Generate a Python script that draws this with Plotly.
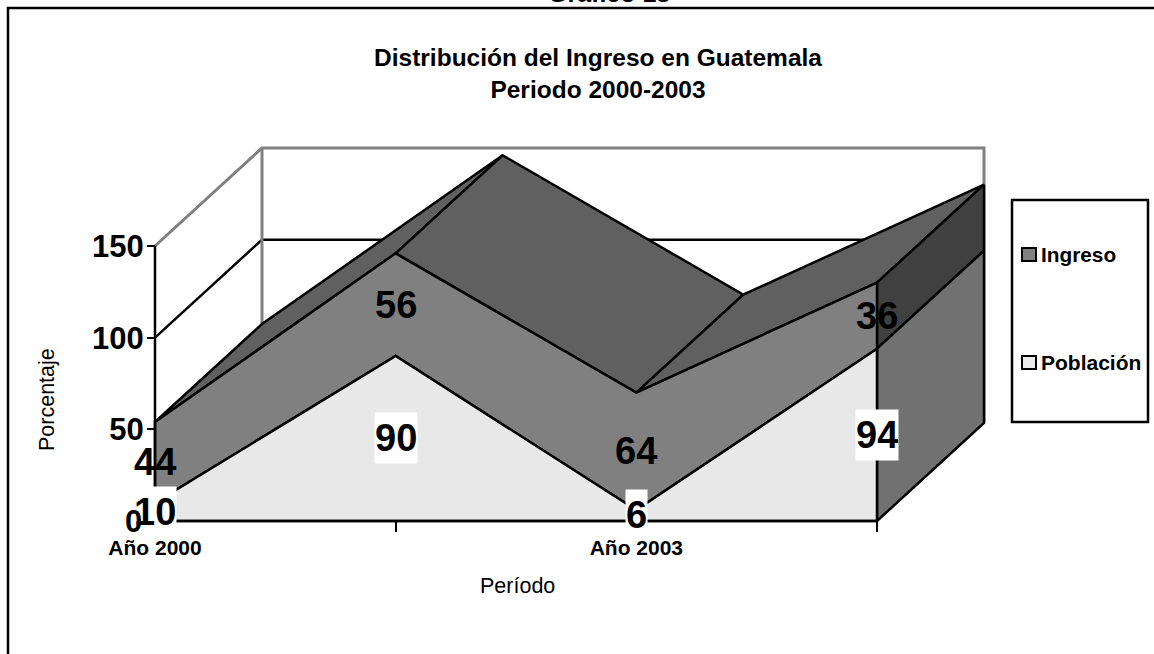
import plotly.graph_objects as go

W, H = 1154, 654
periodos = ["Año 2000", "", "Año 2003", ""]
poblacion = [10, 90, 6, 94]
ingreso = [44, 56, 64, 36]
y_ticks = [0, 50, 100, 150]

# oblique depth of the pseudo-3D box, in axis units
DX, DY = 0.4446, 53.45
x = list(range(len(periodos)))
tope = [p + i for p, i in zip(poblacion, ingreso)]
FONT = "Liberation Sans, Arial, sans-serif"

# axis scale: pixel position of the axis origin and pixels per unit
X0, XS = 155.0, (877 - 155) / 3
Y0, YS = 521.0, (521 - 246) / 150
XLO, XHI = -0.02, x[-1] + DX + 0.05
YLO, YHI = -3, y_ticks[-1] + DY + 3

fig = go.Figure()


def poly(xs, ys, fill=None, line="black", width=2.5, pattern=None):
    kw = {}
    if fill or pattern:
        kw["fill"] = "toself"
        kw["fillcolor"] = fill
    if pattern:
        kw["fillpattern"] = pattern
    fig.add_trace(go.Scatter(x=xs, y=ys, mode="lines", showlegend=False,
                             hoverinfo="skip", line=dict(color=line, width=width), **kw))


GRAY = "#808080"
# back wall / side wall
xmax = x[-1]
for v in y_ticks[1:3]:
    poly([0, DX, xmax + DX], [v, v + DY, v + DY], width=2.5)
poly([0, DX, xmax + DX, xmax + DX], [y_ticks[-1], y_ticks[-1] + DY, y_ticks[-1] + DY, DY], line=GRAY, width=3)
poly([DX, DX], [DY, y_ticks[-1] + DY], line=GRAY, width=3)

# top facets of Ingreso
for k in range(len(x) - 1):
    poly([x[k], x[k + 1], x[k + 1] + DX, x[k] + DX, x[k]],
         [tope[k], tope[k + 1], tope[k + 1] + DY, tope[k] + DY, tope[k]], fill="#606060")

dots_light = dict(shape=".", size=2, solidity=0.22, bgcolor="#ffffff", fgcolor="#8a8a8a", fillmode="replace")
dots_dark = dict(shape=".", size=2, solidity=0.3, bgcolor="#808080", fgcolor="#404040", fillmode="replace")

# end faces
e = x[-1]
poly([e, e + DX, e + DX, e, e], [poblacion[-1], poblacion[-1] + DY, tope[-1] + DY, tope[-1], poblacion[-1]], fill="#404040")
poly([e, e + DX, e + DX, e, e], [0, DY, poblacion[-1] + DY, poblacion[-1], 0], fill="#707070", pattern=dots_dark)

# front faces
poly(x + x[::-1] + [x[0]], poblacion + tope[::-1] + [poblacion[0]], fill=GRAY)
poly(x + x[::-1] + [x[0]], [0] * len(x) + poblacion[::-1] + [0], fill="#ececec", pattern=dots_light)

# axis lines
poly([x[0], x[0]], [y_ticks[0], y_ticks[-1]], width=2.5)
poly([x[0], x[-1]], [0, 0], width=2.5)

annotations = []
LABEL = dict(size=38, family=FONT, weight="bold", color="black")
for i in x:
    annotations.append(dict(x=i, y=poblacion[i] + ingreso[i] / 2, text=str(ingreso[i]), showarrow=False, font=LABEL))
for i in x:
    annotations.append(dict(x=i, y=poblacion[i] / 2, text=str(poblacion[i]), showarrow=False, font=LABEL,
                            bgcolor="white", borderpad=0, height=50))


def px(v):
    return v / W


def py(v):
    return 1 - v / H


# zero tick label sits on top of the "10" box in the reference
annotations.append(dict(x=0, y=0, xshift=-11, yshift=-1, text="0", showarrow=False, xanchor="right",
                        font=dict(size=31, family=FONT, weight="bold", color="black")))
annotations += [
    dict(xref="paper", yref="paper", x=px(47), y=py(400), xanchor="center", yanchor="middle", text="Porcentaje",
         textangle=-90, showarrow=False, font=dict(size=21.5, family=FONT, color="black")),
    dict(xref="paper", yref="paper", x=px(517), y=py(586), xanchor="center", yanchor="middle", text="Período",
         showarrow=False, font=dict(size=21.5, family=FONT, color="black")),
    dict(xref="paper", yref="paper", x=px(609), y=py(-7), xanchor="center", yanchor="middle", text="Gráfico 13",
         showarrow=False, font=dict(size=25, family=FONT, weight="bold", color="black")),
    dict(xref="paper", yref="paper", x=px(1039), y=py(254), xanchor="left", yanchor="middle", text="Ingreso",
         showarrow=False, font=dict(size=20.8, family=FONT, weight="bold", color="black")),
    dict(xref="paper", yref="paper", x=px(1039), y=py(362), xanchor="left", yanchor="middle", text="Población",
         showarrow=False, font=dict(size=21, family=FONT, weight="bold", color="black")),
]

shapes = [
    dict(type="rect", xref="paper", yref="paper", x0=px(8), x1=px(1300), y0=py(8), y1=py(800),
         line=dict(color="black", width=2.5), layer="below"),
    dict(type="rect", xref="paper", yref="paper", x0=px(1012), x1=px(1148), y0=py(200), y1=py(422),
         line=dict(color="black", width=2.5)),
    dict(type="rect", xref="paper", yref="paper", x0=px(1022), x1=px(1036), y0=py(248), y1=py(261),
         fillcolor=GRAY, line=dict(color="black", width=2)),
    dict(type="rect", xref="paper", yref="paper", x0=px(1022), x1=px(1036), y0=py(356), y1=py(369),
         fillcolor="#ececec", line=dict(color="black", width=2)),
]

fig.update_layout(
    width=W, height=H, margin=dict(l=0, r=0, t=0, b=0), paper_bgcolor="white", plot_bgcolor="rgba(0,0,0,0)",
    showlegend=False, shapes=shapes, annotations=annotations,
    title=dict(text="Distribución del Ingreso en Guatemala<br>Periodo 2000-2003", x=598 / W, xanchor="center",
               y=py(66), yanchor="top", font=dict(size=24.5, family=FONT, weight="bold", color="black"),
               automargin=False),
    xaxis=dict(domain=[(X0 + XLO * XS) / W, (X0 + XHI * XS) / W], range=[XLO, XHI], tickmode="array",
               tickvals=x, ticktext=periodos, anchor="free", position=(H - Y0) / H, automargin=False,
               ticks="outside", ticklen=10, tickwidth=2, tickcolor="black", showline=False,
               showgrid=False, zeroline=False, tickangle=0, ticklabelstandoff=-2,
               tickfont=dict(size=21, family=FONT, weight="bold", color="black")),
    yaxis=dict(domain=[(H - Y0 + YLO * YS) / H, (H - Y0 + YHI * YS) / H], range=[YLO, YHI], tickmode="array",
               tickvals=y_ticks, ticktext=[""] + [str(v) for v in y_ticks[1:]], anchor="free", position=X0 / W,
               automargin=False, ticks="outside", ticklen=8, tickwidth=2, tickcolor="black", showline=False,
               showgrid=False, zeroline=False, ticklabelstandoff=-3,
               tickfont=dict(size=31, family=FONT, weight="bold", color="black")),
)

fig.write_html("out.html", config=dict(displayModeBar=False),
               post_script="document.body.style.margin='0';document.body.style.overflow='hidden';")
